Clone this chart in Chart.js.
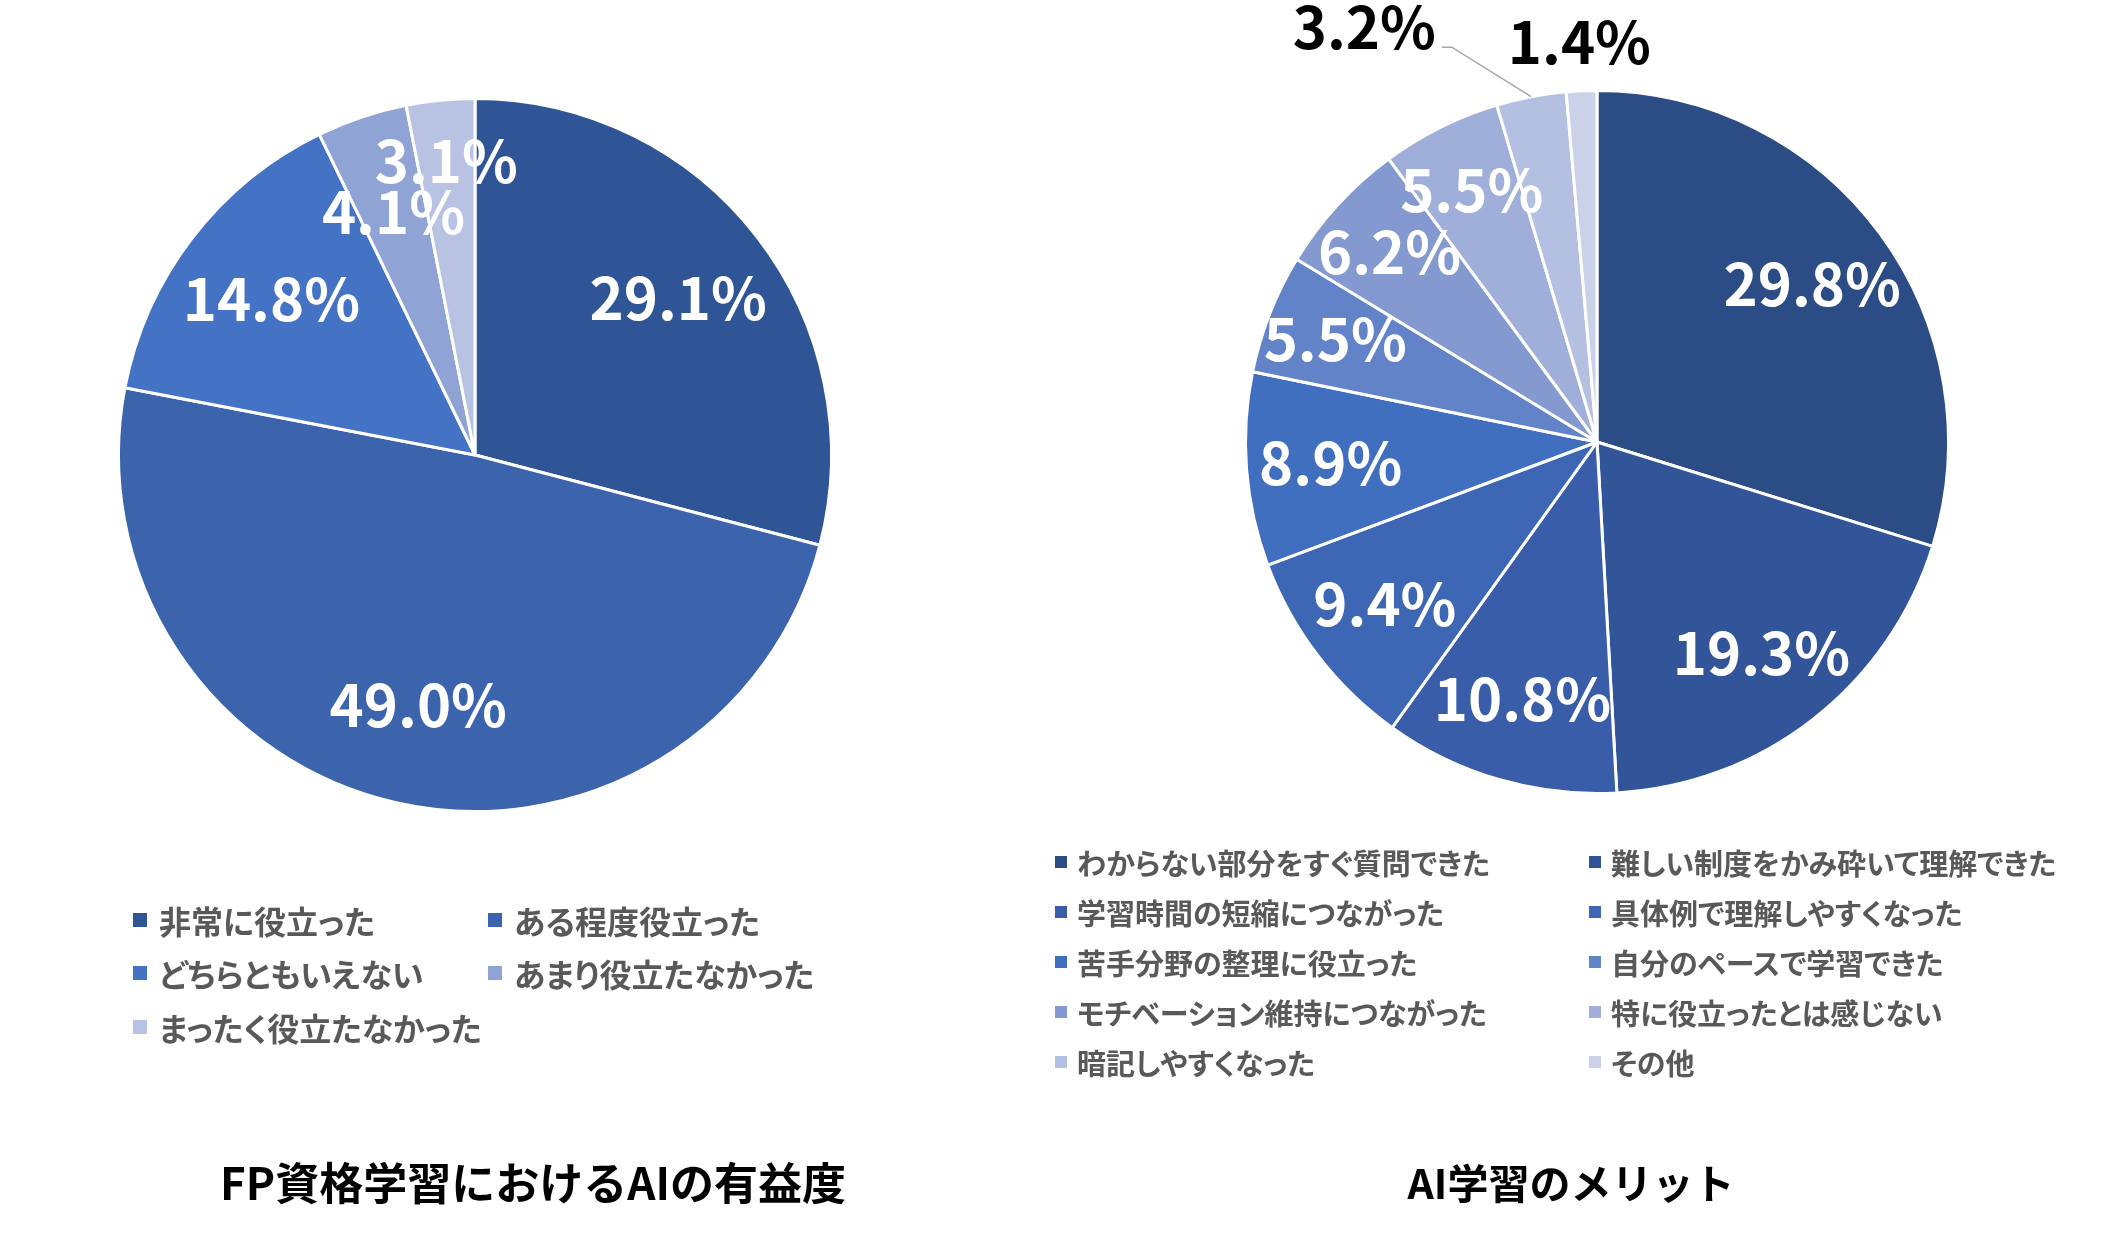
<!DOCTYPE html>
<html lang="ja"><head><meta charset="utf-8">
<script src="https://cdn.jsdelivr.net/npm/chart.js@4/dist/chart.umd.min.js"></script>
<style>
html,body{margin:0;padding:0;background:#fff;width:2111px;height:1243px;overflow:hidden;font-family:"Noto Sans CJK JP","Noto Sans",sans-serif;}
canvas{position:absolute;top:0;}
#c1{left:0px;}
#c2{left:1056px;}
.legend{position:absolute;display:grid;font-weight:700;color:#595959;font-feature-settings:"palt";}
.item{display:flex;align-items:center;white-space:nowrap;}
.sw{display:inline-block;flex:none;}
.title{position:absolute;font-weight:700;color:#000;transform:translate(-50%,-50%);white-space:nowrap;line-height:1;}
</style></head><body>
<canvas id="c1" width="1056" height="1243"></canvas>
<canvas id="c2" width="1055" height="1243"></canvas>
<div id="leg1" class="legend" style="left:133px;top:893px;grid-template-columns:355px 355px;grid-auto-rows:53.5px;font-size:32px;"></div>
<div id="leg2" class="legend" style="left:1055px;top:837px;grid-template-columns:534px 534px;grid-auto-rows:50px;font-size:29px;"></div>
<div class="title" style="left:533px;top:1181px;font-size:44px;">FP資格学習におけるAIの有益度</div>
<div class="title" style="left:1571px;top:1181px;font-size:41px;">AI学習のメリット</div>
<script>
// ---- Data ----
const usefulnessCategories = ['非常に役立った','ある程度役立った','どちらともいえない','あまり役立たなかった','まったく役立たなかった'];
const usefulnessValues = [29.1, 49.0, 14.8, 4.1, 3.1];

const meritCategories = ['わからない部分をすぐ質問できた','難しい制度をかみ砕いて理解できた','学習時間の短縮につながった','具体例で理解しやすくなった','苦手分野の整理に役立った','自分のペースで学習できた','モチベーション維持につながった','特に役立ったとは感じない','暗記しやすくなった','その他'];
const meritValues = [29.8, 19.3, 10.8, 9.4, 8.9, 5.5, 6.2, 5.5, 3.2, 1.4];

// ---- Styles ----
const usefulnessColors = ['#2F5597','#3B64AD','#4472C4','#8FA3D4','#B8C3E3'];
const meritColors = ['#2C4C85','#32559A','#395DA8','#3D66B4','#416FC0','#6283C8','#8399D0','#9FAFD9','#B4C0E1','#CAD1E8'];

const sliceLabels = {
  id: 'sliceLabels',
  afterDatasetsDraw(chart, args, opts) {
    const ctx = chart.ctx;
    const meta = chart.getDatasetMeta(0);
    const data = chart.data.datasets[0].data;
    ctx.save();
    ctx.font = '700 ' + opts.size + 'px "Noto Sans CJK JP"';
    ctx.textAlign = 'center';
    ctx.textBaseline = 'middle';
    const outside = [];
    meta.data.forEach((arc, i) => {
      const p = arc.getProps(['x','y','startAngle','endAngle','outerRadius'], true);
      const mid = (p.startAngle + p.endAngle) / 2;
      const text = data[i].toFixed(1) + '%';
      if (opts.outsideBelow && data[i] < opts.outsideBelow) {
        outside.push({text, mid, p});
      } else {
        ctx.fillStyle = opts.color;
        const f = (opts.smallBelow && data[i] < opts.smallBelow) ? opts.smallFrac : opts.frac;
        const R = p.outerRadius * f;
        ctx.fillText(text, p.x + Math.cos(mid) * R, p.y + Math.sin(mid) * R);
      }
    });
    let leftLimit = Infinity;
    for (let k = outside.length - 1; k >= 0; k--) {
      const o = outside[k];
      const w = ctx.measureText(o.text).width;
      const R = o.p.outerRadius * opts.outFrac;
      let x = o.p.x + Math.cos(o.mid) * R;
      let y = o.p.y + Math.sin(o.mid) * R;
      let moved = false;
      if (x + w / 2 + opts.gap > leftLimit) {
        x = leftLimit - opts.gap - w / 2;
        y -= opts.size * 0.37;
        moved = true;
      }
      ctx.fillStyle = opts.outsideColor;
      ctx.fillText(o.text, x, y);
      if (moved) {
        const ex = o.p.x + Math.cos(o.mid) * o.p.outerRadius;
        const ey = o.p.y + Math.sin(o.mid) * o.p.outerRadius;
        const sx = x + w / 2 + 6, sy = y + opts.size * 0.35;
        ctx.strokeStyle = '#A6A6A6';
        ctx.lineWidth = 1.5;
        ctx.beginPath();
        ctx.moveTo(sx, sy);
        ctx.lineTo(sx + 10, sy);
        ctx.lineTo(ex, ey);
        ctx.stroke();
      }
      leftLimit = x - w / 2;
    }
    ctx.restore();
  }
};

function makePie(id, labels, values, colors, padding, labelOpts) {
  return new Chart(document.getElementById(id), {
    type: 'pie',
    data: { labels, datasets: [{ data: values, backgroundColor: colors, borderColor: '#ffffff', borderWidth: 3, hoverOffset: 0 }] },
    options: {
      responsive: false, animation: false, devicePixelRatio: 1,
      layout: { padding },
      plugins: { legend: { display: false }, tooltip: { enabled: false }, title: { display: false }, sliceLabels: labelOpts }
    },
    plugins: [sliceLabels]
  });
}

makePie('c1', usefulnessCategories, usefulnessValues, usefulnessColors,
  { left: 117, top: 97, right: 223, bottom: 430 },
  { size: 58, color: '#ffffff', frac: 0.72, smallBelow: 3.5, smallFrac: 0.83 });

makePie('c2', meritCategories, meritValues, meritColors,
  { left: 188, top: 89, right: 161, bottom: 448 },
  { size: 58, color: '#ffffff', frac: 0.76, smallBelow: 7, smallFrac: 0.8, outsideBelow: 3.5, outFrac: 1.14, gap: 72, outsideColor: '#000000' });

function buildLegend(elId, labels, colors, sw, gap) {
  const el = document.getElementById(elId);
  labels.forEach((lab, i) => {
    const it = document.createElement('div');
    it.className = 'item';
    const s = document.createElement('span');
    s.className = 'sw';
    s.style.width = sw + 'px'; s.style.height = sw + 'px';
    s.style.background = colors[i]; s.style.marginRight = gap + 'px';
    const t = document.createElement('span');
    t.textContent = lab;
    it.appendChild(s); it.appendChild(t);
    el.appendChild(it);
  });
}
buildLegend('leg1', usefulnessCategories, usefulnessColors, 14, 12);
buildLegend('leg2', meritCategories, meritColors, 12, 10);
</script>
</body></html>
